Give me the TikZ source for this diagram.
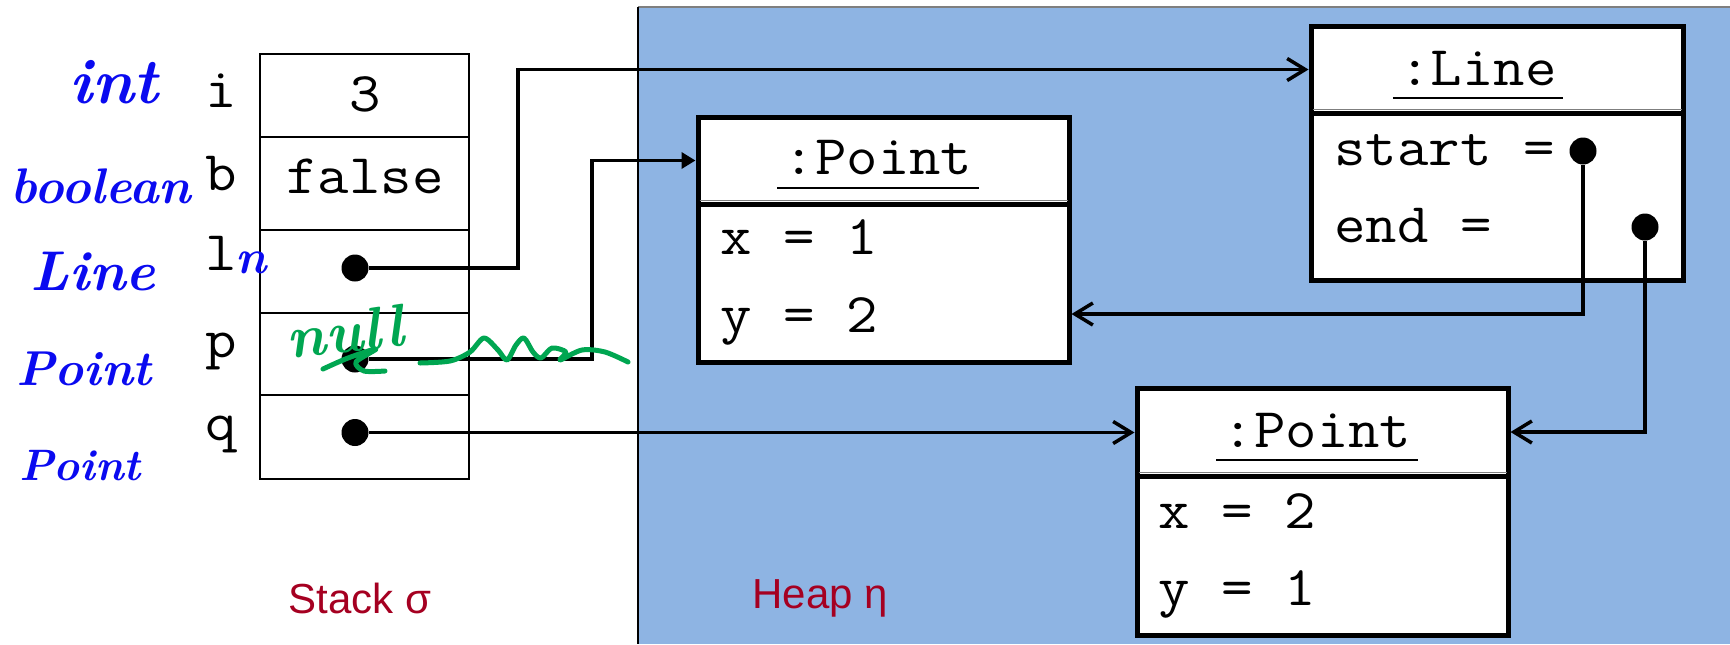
\documentclass[tikz,border=0pt]{standalone}
\usepackage{fontspec}
\usetikzlibrary{arrows.meta,calc,positioning}
\newfontfamily\labelfont{Liberation Sans}
\definecolor{ink}{HTML}{000000}
\definecolor{heap}{HTML}{8EB4E3}
\definecolor{wine}{HTML}{A50021}
\definecolor{pen}{HTML}{0A0AF0}
\definecolor{marker}{HTML}{00A651}
\definecolor{rule}{HTML}{7F7F7F}
\tikzset{
  cellbox/.style={draw=ink,line width=1.3pt,minimum width=104.5pt,inner sep=0pt},
  objbox/.style={draw=ink,fill=white,line width=2.5pt,inner sep=0pt},
  mono/.style={font=\ttfamily\fontsize{28}{30}\selectfont,inner sep=0pt,xscale=1.09,transform shape},
  dot/.style={circle,fill=ink,minimum size=13.5pt,inner sep=0pt},
  ptr/.style={-{Straight Barb[length=9pt,width=11pt]},line width=1.75pt,draw=ink},
  ptrfill/.style={-{Triangle[length=7pt,width=8pt]},line width=1.75pt,draw=ink},
  hand/.style={text=pen,font=\bfseries\itshape\fontsize{#1}{#1}\selectfont,anchor=base,inner sep=0pt},
  tag/.style={text=wine,font=\labelfont\fontsize{21}{24}\selectfont,anchor=base west,inner sep=0pt}
}

\begin{document}
\begin{tikzpicture}[x=0.5pt,y=-0.5pt,
    sep/.style={line width=0.8pt,draw=rule},
    uline/.style={line width=1pt,draw=ink},
    scribble/.style={draw=marker,line width=2.5pt,line cap=round,line join=round}
  ]
  \useasboundingbox (0,0) rectangle (1730,644);
  \fill[heap] (638,7) rectangle (1730,644);
  \draw[line width=1pt,draw=rule] (638,7) -- (1730,7);
  \draw[line width=0.6pt,draw=ink] (638,7) -- (638,644);

  \foreach \n/\y/\h in {i/95.5/41.5,b/183.5/46.5,ln/271.5/41.5,p/354/41,q/437/42} {
    \node[cellbox,minimum height=\h pt] (cell-\n) at (364.5,\y) {};
  }
  \foreach \n/\t/\y in {i/i/107,b/b/190,ln/l/270,p/p/357,q/q/440} {
    \node[mono,anchor=base] (name-\n) at (221,\y) {\t};
  }
  \node[mono,anchor=base] (val-i) at (365,111) {3};
  \node[mono,anchor=base] (val-b) at (365,193) {false};
  \node[dot] (d-ln) at (355,268) {};
  \node[dot] (d-p) at (355,359) {};
  \node[dot] (d-q) at (355,432.5) {};

  \node[objbox,minimum width=186pt,minimum height=43.5pt] (ln-h) at (1497,69.5) {};
  \node[objbox,minimum width=186pt,minimum height=83.5pt] (ln-b) at (1497,196.5) {};
  \node[objbox,minimum width=185.5pt,minimum height=43.5pt] (pa-h) at (883.5,160.5) {};
  \node[objbox,minimum width=185.5pt,minimum height=79pt] (pa-b) at (883.5,283) {};
  \node[objbox,minimum width=185.5pt,minimum height=44pt] (pb-h) at (1322.5,432) {};
  \node[objbox,minimum width=185.5pt,minimum height=79.5pt] (pb-b) at (1322.5,555.5) {};
  \foreach \o in {ln,pa,pb} {
    \draw[sep] ([shift={(4,-6)}]\o-h.south west) -- ([shift={(-4,-6)}]\o-h.south east);
  }

  \node[mono,anchor=base] (ln-t) at (1478,85) {:Line};
  \node[mono,anchor=base] (pa-t) at (878,174.5) {:Point};
  \node[mono,anchor=base] (pb-t) at (1317,447) {:Point};
  \foreach \t in {ln-t,pa-t,pb-t} {
    \draw[uline] ([shift={(-6,13)}]\t.base west) -- ([shift={(6,13)}]\t.base east);
  }

  \node[mono,anchor=base west] (ln-s) at (1334,165) {start =};
  \node[mono,anchor=base west] (ln-e) at (1334,242) {end =};
  \node[mono,anchor=base west] (pa-x) at (720,254.5) {x = 1};
  \node[mono,anchor=base west] (pa-y) at (720,332.5) {y = 2};
  \node[mono,anchor=base west] (pb-x) at (1158,528) {x = 2};
  \node[mono,anchor=base west] (pb-y) at (1158,605) {y = 1};
  \node[dot] (d-start) at (1583,151) {};
  \node[dot] (d-end) at (1645,227) {};

  \draw[ptr] (d-ln) -- ++(163,0) |- (ln-h);
  \draw[ptrfill] (d-p) -- ++(237,0) |- (pa-h);
  \draw[ptr] (d-q) -- (d-q -| pb-h.west);
  \draw[ptr] (d-start) |- ([shift={(0,31)}]pa-b.east);
  \draw[ptr] (d-end) |- (pb-h);

  \node[tag] (stack-l) at (288,613) {Stack σ};
  \node[tag] (heap-l) at (752,608) {Heap η};

  \node[hand=32] (t-i) at (114,103) {int};
  \node[hand=25] (t-b) at (101,203) {boolean};
  \node[hand=28] (t-ln) at (93,290) {Line};
  \node[hand=24.5] (t-p) at (84,385) {Point};
  \node[hand=22] (t-q) at (80,480) {Point};
  \node[hand=24] (t-n) at (251,273) {n};

  \node[hand=30,text=marker,rotate=6] (t-null) at (347,352) {null};
  \draw[scribble] plot[smooth] coordinates {(323,369) (348,358) (376,349) (356,362) (364,371) (385,371)};
  \draw[scribble] plot[smooth] coordinates {(420,363) (450,361) (470,352) (484,338) (498,350) (507,360) (516,345) (524,338) (533,352) (541,358) (552,348) (566,352) (560,360) (582,350) (605,352) (628,362)};
\end{tikzpicture}
\end{document}
